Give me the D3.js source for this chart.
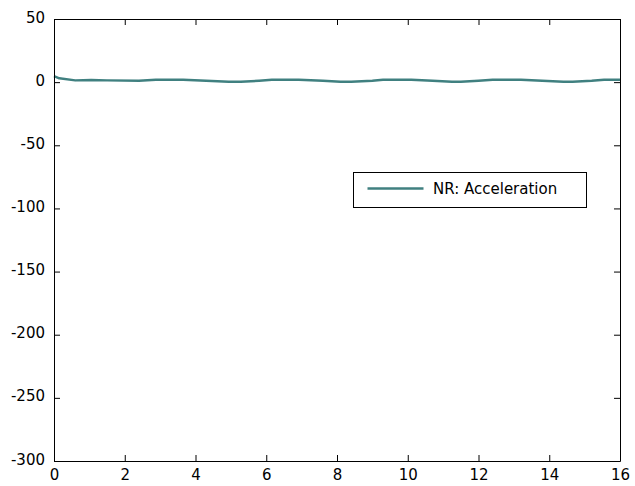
<!DOCTYPE html>
<head>
<meta charset="utf-8">
<style>
body { margin: 0; background: #fff; }
.axis text { font-family: "DejaVu Sans", sans-serif; font-size: 15px; fill: #000; }
.axis path, .axis line { stroke: #000; }
.line { fill: none; stroke: #408080; stroke-width: 2.5px; stroke-linejoin: round; }
</style>
<script src="https://d3js.org/d3.v7.min.js"></script>
</head>
<body>
<svg class="chart" width="635" height="486"></svg>
<script>
// data
var xTicks = [0, 2, 4, 6, 8, 10, 12, 14, 16];
var yTicks = [50, 0, -50, -100, -150, -200, -250, -300];
var time = [0, 0.15, 0.6, 1.05, 1.5, 2.4, 2.88, 3.27, 3.65, 4.3, 4.94, 5.1, 5.28, 5.8, 6.16, 6.55, 6.92, 7.6, 8.1, 8.25, 8.4, 9.0, 9.3, 9.7, 10.1, 10.7, 11.25, 11.4, 11.5, 12.0, 12.4, 12.8, 13.2, 13.8, 14.4, 14.55, 14.66, 15.2, 15.55, 16];
var accel = [4.8, 3.0, 1.4, 1.7, 1.4, 1.1, 1.8, 1.9, 1.8, 1.1, 0.4, 0.3, 0.4, 1.1, 1.8, 1.9, 1.8, 1.1, 0.4, 0.3, 0.4, 1.1, 1.8, 1.9, 1.8, 1.1, 0.4, 0.3, 0.4, 1.1, 1.8, 1.9, 1.8, 1.1, 0.4, 0.3, 0.4, 1.1, 1.8, 1.9];
var legendLabel = "NR: Acceleration";

var svg = d3.select(".chart"),
  margin = {top: 19, right: 15, bottom: 25, left: 54},
  width = 620 - margin.left,
  height = 461 - margin.top,
  g = svg.append("g").attr("transform", "translate(" + margin.left + "," + margin.top + ")");

var x = d3.scaleLinear().domain([0, 16]).range([0, width]);
var y = d3.scaleLinear().domain([-300, 50]).range([height, 0]);

// plain hyphen minus like the original
var fmt = function(d) { return String(d); };

var points = time.map(function(t, i) { return [t, accel[i]]; });

// the line first, the box goes over it
g.append("path")
  .datum(points)
  .attr("class", "line")
  .attr("d", d3.line().x(function(d) { return x(d[0]); }).y(function(d) { return y(d[1]); }));

// axes with inward ticks, matlab style
g.append("g")
  .attr("class", "axis")
  .attr("transform", "translate(0," + height + ")")
  .call(d3.axisBottom(x).tickValues(xTicks).tickSizeInner(-6).tickSizeOuter(0).tickPadding(8).tickFormat(fmt));
g.append("g")
  .attr("class", "axis")
  .call(d3.axisTop(x).tickValues(xTicks).tickSizeInner(-6).tickSizeOuter(0).tickFormat(""));
g.append("g")
  .attr("class", "axis axis--y")
  .call(d3.axisLeft(y).tickValues(yTicks).tickSizeInner(-6).tickSizeOuter(0).tickPadding(9).tickFormat(fmt));
g.append("g")
  .attr("class", "axis")
  .attr("transform", "translate(" + width + ",0)")
  .call(d3.axisRight(y).tickValues(yTicks).tickSizeInner(-6).tickSizeOuter(0).tickFormat(""));
g.selectAll(".axis--y text").attr("dy", "0.2em");

// legend
var lg = svg.append("g").attr("transform", "translate(353.5,172.5)");
lg.append("rect").attr("width", 233).attr("height", 35).attr("fill", "#fff").attr("stroke", "#000");
lg.append("line").attr("x1", 14).attr("x2", 70).attr("y1", 16).attr("y2", 16)
  .attr("stroke", "#408080").attr("stroke-width", 2.5);
lg.append("text").attr("x", 79.5).attr("y", 21.5)
  .attr("font-family", "DejaVu Sans, sans-serif").attr("font-size", 15)
  .text(legendLabel);
</script>
</body>
